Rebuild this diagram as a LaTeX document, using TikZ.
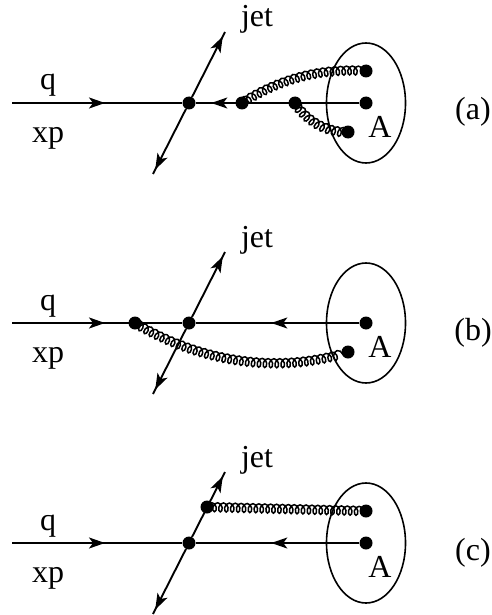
\documentclass[tikz,border=0pt]{standalone}
\usepackage{fontspec}
\setmainfont{Liberation Serif}
\usetikzlibrary{arrows.meta,decorations.markings,decorations.pathmorphing,positioning}

\begin{document}
\begin{tikzpicture}[
x=1pt,y=-1pt,
every node/.style={font=\fontsize{32}{32}\selectfont,inner sep=0pt},
dot/.style={circle, fill=black, minimum size=13pt},
line/.style={line width=1.9pt},
nucleus/.style={line width=1.6pt},
gluon/.style={line width=1.5pt,decorate,decoration={coil,aspect=0.7,amplitude=4.5pt,segment length=5.9pt}},
midarrow/.style={postaction={decorate},decoration={markings,mark=at position #1 with {\arrow{Stealth[length=16pt,width=11pt,inset=4pt]}}}}
]
\useasboundingbox (0,0) rectangle (491,615);
\foreach \yy/\lab/\pos in {103/a/148pt,323/b/88pt,543/c/88pt}
{
\coordinate (in\lab) at (12,\yy);
\coordinate (up\lab) at (225,\yy-71);
\coordinate (dn\lab) at (153,\yy+71);
\node[dot] (v\lab) at (189,\yy) {};
\node[dot] (n\lab) at (366,\yy) {};
\draw[nucleus] (366,\yy) ellipse (39.5 and 60);
\draw[line,midarrow=93pt] (in\lab) -- (v\lab);
\draw[line,midarrow=\pos] (n\lab) -- (v\lab);
\draw[line,midarrow=68pt] (v\lab) -- (up\lab);
\draw[line,midarrow=68pt] (v\lab) -- (dn\lab);
\node[anchor=base] (jet\lab) at (257,\yy-76) {jet};
\node[anchor=base] (q\lab) at (48,\yy-13) {q};
\node[anchor=base] (xp\lab) at (48,\yy+39) {xp};
\node[anchor=base] (A\lab) at (380,\yy+34) {A};
\node[anchor=base] (name\lab) at (473,\yy+17) {(\lab)};
}
% gluons of (a)
\node[dot] (a1) at (242,103) {};
\node[dot] (a2) at (295,103) {};
\node[dot] (a3) at (366,71) {};
\node[dot] (a4) at (348,132) {};
\draw[gluon] (a1.center) .. controls +(35,-22) and +(-50,-3) .. (a3.center);
\draw[gluon] (a2.center) .. controls +(12,18) and +(-22,0) .. (a4.center);
% gluon of (b)
\node[dot] (b1) at (135,323) {};
\node[dot] (b2) at (348,352) {};
\draw[gluon] (b1.center) .. controls +(60,36) and +(-75,24) .. (b2.center);
% gluon of (c)
\node[dot] (c1) at (207,507) {};
\node[dot] (c2) at (366,511) {};
\draw[gluon] (c1.center) -- (c2.center);
\end{tikzpicture}
\end{document}
